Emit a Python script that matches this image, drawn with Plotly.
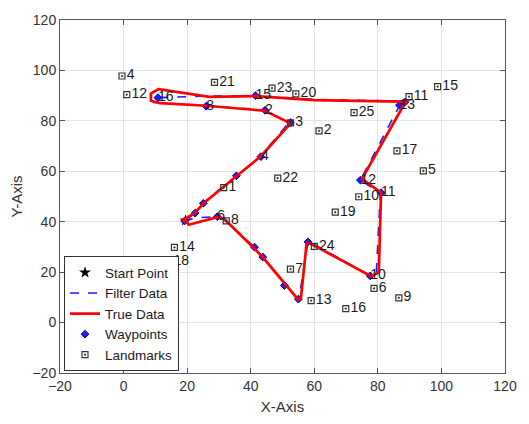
import plotly.graph_objects as go

# Start point of the run
start_x = [19.5]
start_y = [40.5]

# Waypoints in driving order, with their printed labels ("" = no label drawn)
wp_x = [19.2, 22.5, 25.1, 29.5, 41.2, 43.8, 50.6, 55.0, 58.0, 77.6, 81.0, 74.5, 86.8, 88.5, 41.5, 10.8, 26.0, 44.5, 52.5, 43.2, 35.5]
wp_y = [40.3, 43.4, 47.3, 42.0, 29.9, 26.0, 14.7, 9.3, 32.0, 18.5, 51.5, 56.5, 86.2, 87.4, 90.0, 89.2, 85.8, 84.2, 79.3, 65.8, 58.2]
wp_labels = ["", "", "", "6", "", "", "", "", "", "10", "11", "12", "13", "", "15", "16", "8", "2", "", "4", ""]

# True trajectory
true_x = [19.5, 20.5, 29.5, 31.5, 41.0, 44.0, 55.0, 55.8, 57.6, 59.0, 78.0, 80.3, 81.0, 78.5, 75.0, 88.0, 89.2, 87.5,
          60.0, 41.5, 27.0, 11.0, 8.6, 8.6, 11.5, 26.0, 44.5, 52.5, 43.2, 35.5, 25.1, 22.5, 18.5, 19.5]
true_y = [40.5, 38.8, 41.8, 41.3, 29.6, 25.6, 9.0, 9.8, 31.6, 31.2, 18.3, 20.0, 51.5, 53.8, 57.0, 86.0, 87.3, 87.6,
          88.2, 89.8, 89.5, 92.6, 90.8, 88.0, 87.0, 86.0, 84.0, 79.0, 66.0, 58.0, 47.2, 43.6, 40.4, 40.5]

# Filtered estimate of the trajectory
filt_x = [19.0, 22.5, 29.5, 31.0, 41.2, 43.8, 54.8, 55.2, 58.0, 59.3, 77.6, 79.5, 80.8, 78.2, 74.5, 86.8, 88.8, 87.0,
          60.0, 41.5, 26.0, 10.8, 9.0, 9.5, 12.0, 26.0, 44.2, 52.0, 43.0, 35.3, 25.0, 22.5, 19.0]
filt_y = [40.2, 41.5, 42.0, 41.5, 29.9, 26.0, 9.2, 9.5, 32.0, 31.5, 18.6, 19.5, 51.3, 53.5, 56.5, 86.0, 87.4, 87.8,
          88.5, 90.0, 89.8, 89.2, 88.5, 87.3, 87.2, 85.9, 84.4, 79.3, 65.8, 58.0, 47.4, 43.4, 40.2]

# Landmark map
lm_x = [31.5, 61.5, 52.5, -0.5, 94.3, 78.8, 52.5, 32.3, 86.6, 74.0, 89.8, 1.0, 59.0, 16.0, 98.8, 69.9, 86.0, 14.2,
        66.6, 54.2, 28.6, 48.5, 46.7, 60.0, 72.5]
lm_y = [53.5, 76.0, 79.2, 97.8, 60.2, 13.6, 21.2, 40.3, 9.8, 49.9, 89.6, 90.4, 8.7, 29.8, 93.6, 5.5, 68.1, 24.3,
        43.8, 90.7, 95.3, 57.3, 93.0, 30.2, 83.3]
lm_labels = [str(i) for i in range(1, 26)]

x_ticks = [-20, 0, 20, 40, 60, 80, 100, 120]
y_ticks = [-20, 0, 20, 40, 60, 80, 100, 120]

FONT = "Liberation Sans, Arial, sans-serif"

fig = go.Figure()

fig.add_trace(go.Scatter(
    x=start_x, y=start_y, mode="markers", name="Start Point",
    marker=dict(symbol="star", size=9, color="black"), legendrank=1))

fig.add_trace(go.Scatter(
    x=wp_x, y=wp_y, mode="markers", name="Waypoints",
    marker=dict(symbol="diamond", size=6, color="#2020e0",
                line=dict(color="#0000cc", width=1)), legendrank=4))

fig.add_trace(go.Scatter(
    x=filt_x, y=filt_y, mode="lines", name="Filter Data",
    line=dict(color="#1a1aff", width=1.6, dash="dash"), legendrank=2))

fig.add_trace(go.Scatter(
    x=true_x, y=true_y, mode="lines", name="True Data",
    line=dict(color="#ff0000", width=2.7), legendrank=3))

fig.add_trace(go.Scatter(
    x=lm_x, y=lm_y, mode="markers+text", name="Landmarks",
    text=lm_labels, textposition="middle right",
    textfont=dict(family=FONT, size=14, color="#1a1a1a"),
    marker=dict(symbol="square-open-dot", size=6, color="#333333",
                line=dict(width=1.2)), legendrank=5))

fig.add_trace(go.Scatter(
    x=wp_x, y=wp_y, mode="text", text=wp_labels, textposition="middle right",
    textfont=dict(family=FONT, size=14, color="#1a1a1a"), showlegend=False,
    hoverinfo="skip"))

axis_common = dict(
    showgrid=True, gridcolor="#e4e4e4", gridwidth=1,
    zeroline=False, showline=True, linecolor="#555555", linewidth=1,
    mirror="ticks", ticks="inside", ticklen=5, tickcolor="#555555",
    tickfont=dict(family=FONT, size=14, color="#333333"),
)

fig.update_xaxes(range=[-20, 120], tickvals=x_ticks,
                 title=dict(text="X-Axis", font=dict(family=FONT, size=15, color="#333333"), standoff=8),
                 **axis_common)
fig.update_yaxes(range=[-20, 120], tickvals=y_ticks,
                 title=dict(text="Y-Axis", font=dict(family=FONT, size=15, color="#333333"), standoff=6),
                 **axis_common)

fig.update_layout(
    width=529, height=424,
    margin=dict(l=60, r=20, t=13, b=48),
    plot_bgcolor="white", paper_bgcolor="white",
    legend=dict(x=0.009, y=0.005, xanchor="left", yanchor="bottom",
                bgcolor="white", bordercolor="#333333", borderwidth=1,
                font=dict(family=FONT, size=13.5, color="#1a1a1a"),
                tracegroupgap=0, itemwidth=30),
)

fig.write_html("out.html")
